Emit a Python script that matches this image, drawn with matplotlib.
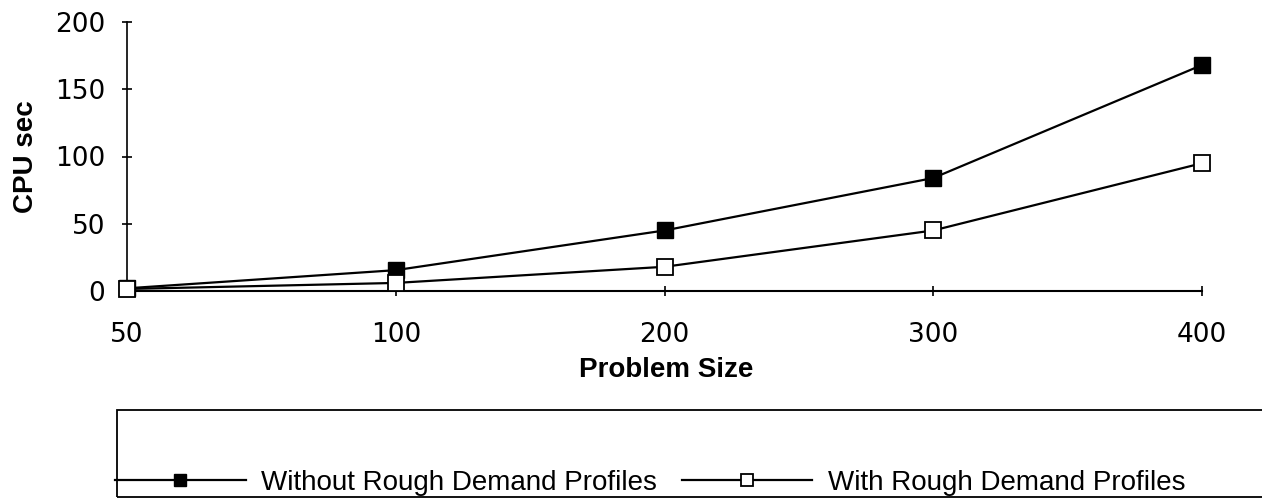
import matplotlib
matplotlib.use('Agg')
import matplotlib.pyplot as plt
from matplotlib.patches import Rectangle

# data
sizes = ['50', '100', '200', '300', '400']
cpu_without = [2, 15.5, 45, 84, 168]
cpu_with = [1.5, 6, 18, 45, 95]
y_ticks = [0, 50, 100, 150, 200]

plt.rcParams['font.family'] = ['Liberation Sans', 'DejaVu Sans']

fig = plt.figure(figsize=(12.62, 5.0), dpi=100)
ax = fig.add_axes([127 / 1262, 1 - 291 / 500, (1202 - 127) / 1262, (291 - 22) / 500])

x = list(range(len(sizes)))
ax.plot(x, cpu_without, color='black', linewidth=1.6, marker='s', markersize=11,
        markerfacecolor='black', markeredgecolor='black', label='Without Rough Demand Profiles',
        zorder=3, clip_on=False)
ax.plot(x, cpu_with, color='black', linewidth=1.6, marker='s', markersize=11,
        markerfacecolor='white', markeredgecolor='black', markeredgewidth=1.3,
        label='With Rough Demand Profiles', zorder=4, clip_on=False)

ax.set_xlim(0, len(sizes) - 1)
ax.set_ylim(0, 200)
ax.set_xticks(x)
ax.set_xticklabels(sizes)
ax.set_yticks(y_ticks)

for s in ['top', 'right']:
    ax.spines[s].set_visible(False)
ax.spines['left'].set_linewidth(1.2)
ax.spines['bottom'].set_linewidth(1.5)

ax.tick_params(axis='y', direction='inout', length=7, width=1.2, pad=12)
ax.tick_params(axis='x', direction='inout', length=7, width=1.2, pad=19)
for lab in ax.get_xticklabels() + ax.get_yticklabels():
    lab.set_fontfamily('DejaVu Sans')
    lab.set_fontsize(19)

fig.text(26 / 1262, 1 - 157 / 500, 'CPU sec', rotation=90, fontsize=20, fontweight='bold',
         ha='center', va='center')
fig.text(666 / 1262, 1 - 370 / 500, 'Problem Size', fontsize=20, fontweight='bold',
         ha='center', va='center')

# legend box, runs off the right edge like the scan
box = Rectangle((117 / 1262, 3 / 500), 1.0, (497 - 410) / 500, transform=fig.transFigure,
                fill=False, edgecolor='black', linewidth=1.3, clip_on=False)
fig.patches.append(box)

fig.legend(loc='center left', bbox_to_anchor=(115 / 1262, 1 - 483 / 500), ncol=2,
           frameon=False, fontsize=20, handlelength=4.7, handletextpad=0.55,
           columnspacing=0.9, borderpad=0, borderaxespad=0, markerscale=0.85)

plt.savefig('out.png', dpi=100)
